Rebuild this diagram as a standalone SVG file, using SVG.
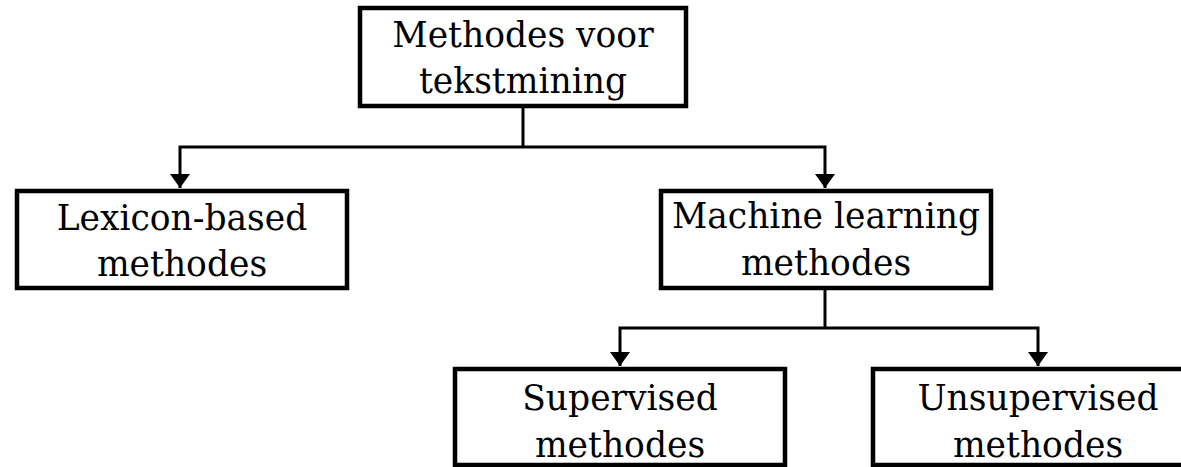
<svg xmlns="http://www.w3.org/2000/svg" width="1181" height="467" viewBox="0 0 1181 467">
<style>
.box{fill:#fff;stroke:#000;stroke-width:4.5}
.t{font-family:"DejaVu Serif","Liberation Serif",serif;font-size:34.5px;fill:#000;text-anchor:middle}
.c{fill:none;stroke:#000;stroke-width:3}
</style>
<defs>
<marker id="ah" viewBox="0 0 14 20" refX="14" refY="10" markerWidth="14" markerHeight="20" markerUnits="userSpaceOnUse" orient="auto">
<path d="M0,0 L14,10 L0,20 Z" fill="#000"/>
</marker>
</defs>
<rect width="1181" height="467" fill="#fff"/>
<g id="connectors">
<path class="c" d="M523,106 V147"/>
<path class="c" d="M523,147 H180 V188" marker-end="url(#ah)"/>
<path class="c" d="M523,147 H825 V188" marker-end="url(#ah)"/>
<path class="c" d="M825,288 V328"/>
<path class="c" d="M825,328 H620 V366" marker-end="url(#ah)"/>
<path class="c" d="M825,328 H1038 V366" marker-end="url(#ah)"/>
</g>
<g id="n-root">
<rect class="box" x="360" y="8" width="326" height="98"/>
<text class="t" x="523" y="47">Methodes voor</text>
<text class="t" x="523" y="93">tekstmining</text>
</g>
<g id="n-lexicon">
<rect class="box" x="17" y="191" width="330" height="97"/>
<text class="t" x="182" y="230">Lexicon-based</text>
<text class="t" x="182" y="276">methodes</text>
</g>
<g id="n-ml">
<rect class="box" x="661" y="191" width="330" height="97"/>
<text class="t" x="826" y="228">Machine learning</text>
<text class="t" x="826" y="275">methodes</text>
</g>
<g id="n-supervised">
<rect class="box" x="455" y="369" width="330" height="96"/>
<text class="t" x="620" y="410">Supervised</text>
<text class="t" x="620" y="457">methodes</text>
</g>
<g id="n-unsupervised">
<rect class="box" x="873" y="369" width="330" height="96"/>
<text class="t" x="1038" y="410">Unsupervised</text>
<text class="t" x="1038" y="457">methodes</text>
</g>
</svg>
